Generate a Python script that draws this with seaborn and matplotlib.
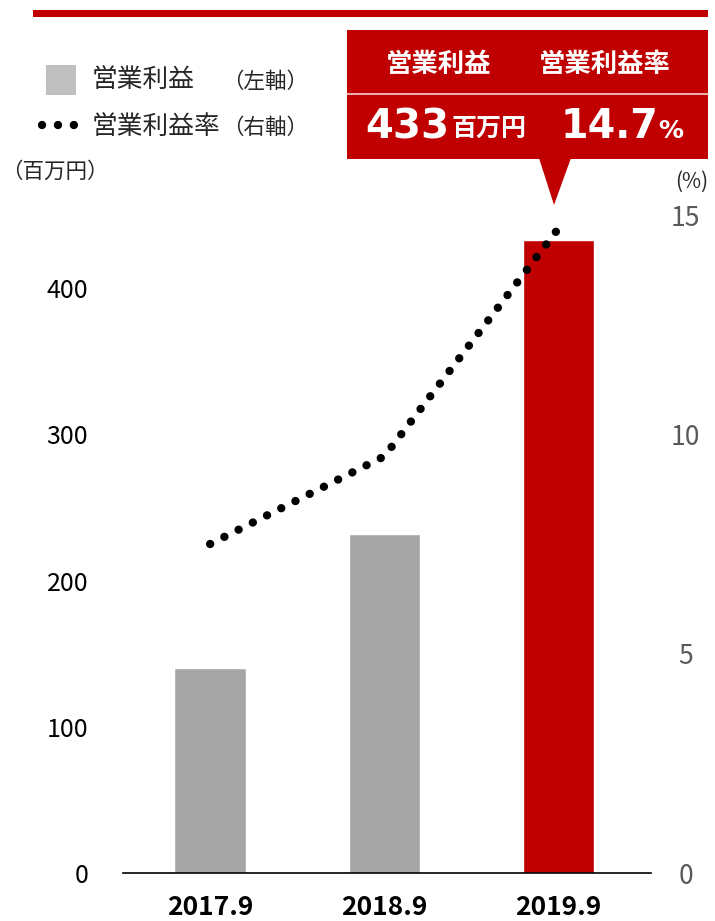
import numpy as np
import pandas as pd
import matplotlib
matplotlib.use('Agg')
import matplotlib.pyplot as plt
import seaborn as sns
from matplotlib.patches import Rectangle, Polygon
from matplotlib.lines import Line2D

# ---- data ----
years = ['2017.9', '2018.9', '2019.9']
profit = [140, 232, 433]          # 営業利益 (百万円)
margin = [7.5, 9.5, 14.7]         # 営業利益率 (%)
bar_colors = ['#A6A6A6', '#A6A6A6', '#C00000']
left_ticks = [0, 100, 200, 300, 400]
right_ticks = [0, 5, 10, 15]
callout_head = ['営業利益', '営業利益率']
callout_value = ['433', '14.7']
callout_unit = ['百万円', '%']

sns.set_style('white')
JP = ['Noto Sans CJK JP', 'DejaVu Sans']
plt.rcParams['font.family'] = JP

W, H = 715, 921
fig = plt.figure(figsize=(W / 100, H / 100), dpi=100)


def fx(px):
    return px / W


def fy(py):
    return 1 - py / H


RED = '#C00000'
DOT_STYLE = dict(color='black', lw=6.0, linestyle=(0, (0.01, 1.9)),
                 dash_capstyle='round')

ax = fig.add_axes([fx(123), fy(873), fx(651) - fx(123), fy(215) - fy(873)])
df = pd.DataFrame({'year': years, 'profit': profit, 'margin': margin})
sns.barplot(data=df, x='year', y='profit', hue='year', palette=bar_colors,
            width=0.41, legend=False, saturation=1, ax=ax)
ax.set_xlim(-0.5, 2.53)
ax.set_ylim(0, 450)
ax.set_yticks(left_ticks)
ax.set_xlabel('')
ax.set_ylabel('')
ax.tick_params(axis='y', length=0, pad=25, labelsize=18, labelcolor='black')
ax.tick_params(axis='x', length=0, pad=15, labelsize=19, labelcolor='black')
for lab in ax.get_xticklabels():
    lab.set_fontweight('bold')
for s in ['left', 'right', 'top']:
    ax.spines[s].set_visible(False)
ax.spines['bottom'].set_color('black')
ax.spines['bottom'].set_linewidth(1.2)

ax2 = ax.twinx()
sns.lineplot(x=np.arange(len(years)), y=margin, ax=ax2, **DOT_STYLE)
ax2.set_ylim(0, 15)
ax2.set_xlim(-0.5, 2.53)
ax2.set_yticks(right_ticks)
ax2.set_ylabel('')
ax2.tick_params(axis='y', length=0, pad=25, labelsize=19, labelcolor='#595959')
for lab in ax2.get_yticklabels():
    lab.set_ha('center')
for s in ax2.spines.values():
    s.set_visible(False)

# ---- top red rule ----
fig.add_artist(Rectangle((fx(33), fy(17)), fx(708) - fx(33), fy(10) - fy(17),
                         transform=fig.transFigure, color=RED, lw=0))

# ---- legend ----
fig.add_artist(Rectangle((fx(46), fy(95)), fx(76) - fx(46), fy(65) - fy(95),
                         transform=fig.transFigure, color='#BFBFBF', lw=0))
fig.add_artist(Line2D([fx(42), fx(77)], [fy(125), fy(125)],
                      transform=fig.transFigure, **DOT_STYLE))
fig.text(fx(92), fy(80), '営業利益', fontsize=18.5, va='center', ha='left')
fig.text(fx(92), fy(127), '営業利益率', fontsize=18.5, va='center', ha='left')
fig.text(fx(222), fy(82), '（左軸）', fontsize=15.5, va='center', ha='left')
fig.text(fx(222), fy(128), '（右軸）', fontsize=15.5, va='center', ha='left')

# axis unit labels
fig.text(fx(1), fy(172), '（百万円）', fontsize=15.5, va='center', ha='left')
fig.text(fx(675), fy(182), '(%)', fontsize=15, va='center', ha='left',
         color='#262626')

# ---- callout ----
fig.add_artist(Rectangle((fx(347), fy(159)), fx(708) - fx(347), fy(30) - fy(159),
                         transform=fig.transFigure, color=RED, lw=0))
fig.add_artist(Polygon([(fx(539), fy(158)), (fx(571), fy(158)), (fx(554), fy(205))],
                       closed=True, transform=fig.transFigure, color=RED, lw=0))
fig.add_artist(Line2D([fx(347), fx(708)], [fy(94), fy(94)],
                      transform=fig.transFigure, color='#F2D0D0', lw=1.2))
fig.text(fx(439), fy(64), callout_head[0], fontsize=19, fontweight='bold',
         color='white', ha='center', va='center')
fig.text(fx(605), fy(64), callout_head[1], fontsize=19, fontweight='bold',
         color='white', ha='center', va='center')
fig.text(fx(365), fy(138), callout_value[0], fontsize=29, fontweight='bold',
         color='white', ha='left', va='baseline', family=['DejaVu Sans'])
fig.text(fx(452), fy(136), callout_unit[0], fontsize=18, fontweight='bold',
         color='white', ha='left', va='baseline')
fig.text(fx(561), fy(138), callout_value[1], fontsize=28.5, fontweight='bold',
         color='white', ha='left', va='baseline', family=['DejaVu Sans'])
fig.text(fx(658), fy(138), callout_unit[1], fontsize=18, fontweight='bold',
         color='white', ha='left', va='baseline', family=['DejaVu Sans'])

fig.savefig('out.png', dpi=100, facecolor='white')
